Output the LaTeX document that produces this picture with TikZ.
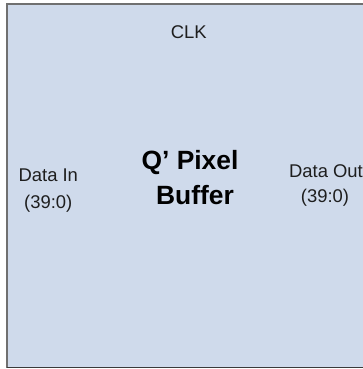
\documentclass[tikz,border=0pt]{standalone}
\usepackage{fontspec}
\setmainfont{Liberation Sans}
\definecolor{boxfill}{HTML}{CFDAEB}
\definecolor{edgegray}{HTML}{707070}
\definecolor{edgedark}{HTML}{3A3A3A}
\definecolor{txt}{HTML}{1E1E1E}
\begin{document}
\begin{tikzpicture}[x=1bp,y=1bp,
  lbl/.style={inner sep=0pt, anchor=base, text=txt, font=\fontsize{18.5}{22}\selectfont},
  title/.style={inner sep=0pt, anchor=base, text=black, font=\fontsize{26.5}{32}\selectfont\bfseries}]
\useasboundingbox (0,0) rectangle (363,369);
\clip (0,0) rectangle (363,369);
\fill[boxfill] (7,1.5) rectangle (380,365);
\draw[edgegray, line width=1.6bp] (380,365) -- (7,365) -- (7,1.5);
\draw[edgedark, line width=1.6bp] (7,1.5) -- (380,1.5);
\node[lbl] (clk) at (188.7,330.7) {CLK};
\node[lbl] (din1) at (48.3,187.3) {Data In};
\node[lbl] (din2) at (48.3,160.7) {(39:0)};
\node[lbl] (dout1) at (326,191.3) {Data Out};
\node[lbl] (dout2) at (325,166.7) {(39:0)};
\node[title] (t1) at (190,199.7) {Q’ Pixel};
\node[title] (t2) at (195,164.7) {Buffer};
\end{tikzpicture}
\end{document}
